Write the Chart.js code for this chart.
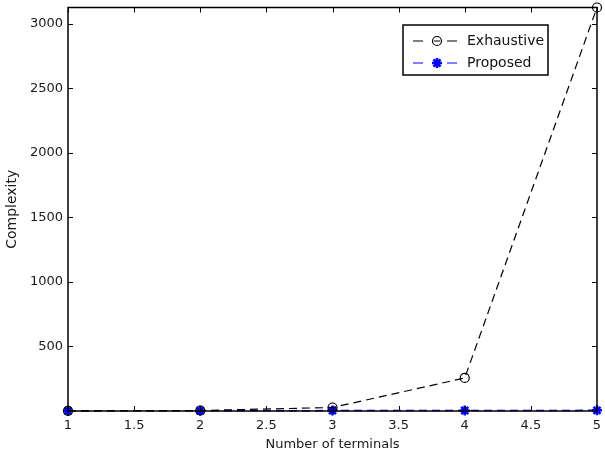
<!DOCTYPE html>
<html>
<head>
<meta charset="utf-8">
<script src="https://cdn.jsdelivr.net/npm/chart.js@4"></script>
<style>
  html, body { margin: 0; padding: 0; background: #fff; }
  #wrap { width: 605px; height: 460px; }
</style>
</head>
<body>
<div id="wrap"><canvas id="chart" width="605" height="460"></canvas></div>
<script>
const terminals = [1, 2, 3, 4, 5];
const exhaustive = [1, 4, 27, 256, 3125];
const proposed = [1, 2, 3, 4, 5];
const yTicks = [500, 1000, 1500, 2000, 2500, 3000];
const xTicks = [1, 1.5, 2, 2.5, 3, 3.5, 4, 4.5, 5];

const FONT = '"DejaVu Sans", Arial, sans-serif';

// box + inward ticks like matlab, and the legend inside the axes
const frame = {
  id: 'frame',
  afterDatasetsDraw(chart) {
    const { ctx, chartArea: a, scales: { x, y } } = chart;
    ctx.save();
    ctx.strokeStyle = '#000';
    ctx.lineWidth = 1;
    ctx.beginPath();
    xTicks.forEach(v => {
      const px = Math.round(x.getPixelForValue(v)) + 0.5;
      ctx.moveTo(px, a.bottom); ctx.lineTo(px, a.bottom - 5);
      ctx.moveTo(px, a.top); ctx.lineTo(px, a.top + 5);
    });
    yTicks.forEach(v => {
      const py = Math.round(y.getPixelForValue(v)) + 0.5;
      ctx.moveTo(a.left, py); ctx.lineTo(a.left + 5, py);
      ctx.moveTo(a.right, py); ctx.lineTo(a.right - 5, py);
    });
    ctx.stroke();
    ctx.lineWidth = 1.5;
    ctx.strokeRect(a.left, a.top, a.right - a.left, a.bottom - a.top);

    // legend
    const lx = 403, ly = 25, lw = 145, lh = 50;
    ctx.fillStyle = '#fff';
    ctx.fillRect(lx, ly, lw, lh);
    ctx.lineWidth = 1.5;
    ctx.strokeStyle = '#000';
    ctx.strokeRect(lx, ly, lw, lh);
    ctx.font = '14px ' + FONT;
    ctx.textBaseline = 'middle';
    chart.data.datasets.forEach((ds, i) => {
      const cy = ly + 16 + i * 22;
      const mx = lx + 34;
      ctx.strokeStyle = ds.borderColor;
      ctx.lineWidth = 1.2;
      ctx.beginPath();
      ctx.moveTo(lx + 10, cy); ctx.lineTo(lx + 20, cy);
      ctx.moveTo(lx + 44, cy); ctx.lineTo(lx + 54, cy);
      if (ds.pointStyle === 'circle') { ctx.moveTo(mx - 3, cy); ctx.lineTo(mx + 3, cy); }
      ctx.stroke();
      ctx.fillStyle = ds.pointBackgroundColor;
      ctx.lineWidth = ds.pointBorderWidth;
      Chart.helpers.drawPoint(ctx, {
        pointStyle: ds.pointStyle, radius: ds.pointRadius, borderWidth: ds.pointBorderWidth, rotation: 0
      }, mx, cy);
      ctx.fillStyle = '#111';
      ctx.fillText(ds.label, lx + 64, cy);
    });
    ctx.restore();
  }
};

new Chart(document.getElementById('chart'), {
  type: 'line',
  data: {
    datasets: [
      {
        label: 'Exhaustive',
        data: terminals.map((t, i) => ({ x: t, y: exhaustive[i] })),
        borderColor: '#000',
        borderWidth: 1.2,
        borderDash: [8, 5],
        pointStyle: 'circle',
        pointRadius: 4.5,
        pointBorderWidth: 1.2,
        pointBackgroundColor: 'rgba(0,0,0,0)',
        pointBorderColor: '#000',
        clip: false
      },
      {
        label: 'Proposed',
        data: terminals.map((t, i) => ({ x: t, y: proposed[i] })),
        borderColor: '#0000ff',
        borderWidth: 1.5,
        borderDash: [8, 5],
        pointStyle: 'star',
        pointRadius: 5,
        pointBorderWidth: 2.5,
        pointBackgroundColor: '#0000ff',
        pointBorderColor: '#0000ff',
        clip: false
      }
    ]
  },
  options: {
    responsive: false,
    animation: false,
    layout: { padding: { left: 4, top: 5, right: 8, bottom: 0 } },
    plugins: { legend: { display: false }, tooltip: { enabled: false } },
    scales: {
      x: {
        type: 'linear',
        min: 1, max: 5,
        grid: { display: false, drawTicks: false },
        border: { display: false },
        afterBuildTicks: s => { s.ticks = xTicks.map(v => ({ value: v })); },
        afterFit: s => { s.height = 49; s.paddingLeft = 0; s.paddingRight = 0; },
        ticks: { padding: 7, color: '#1a1a1a', font: { family: FONT, size: 13 }, maxRotation: 0, callback: v => String(v) },
        title: { display: true, text: 'Number of terminals', color: '#1a1a1a', font: { family: FONT, size: 13 }, padding: { top: 0, bottom: 8 } }
      },
      y: {
        type: 'linear',
        min: 0, max: 3125,
        grid: { display: false, drawTicks: false },
        border: { display: false },
        afterBuildTicks: s => { s.ticks = yTicks.map(v => ({ value: v })); },
        afterFit: s => { s.width = 64; s.paddingTop = 0; s.paddingBottom = 0; },
        ticks: { padding: 5, color: '#1a1a1a', font: { family: FONT, size: 13 }, callback: v => String(v) },
        title: { display: true, text: 'Complexity', color: '#1a1a1a', font: { family: FONT, size: 14 }, padding: 0 }
      }
    }
  },
  plugins: [frame]
});
</script>
</body>
</html>
